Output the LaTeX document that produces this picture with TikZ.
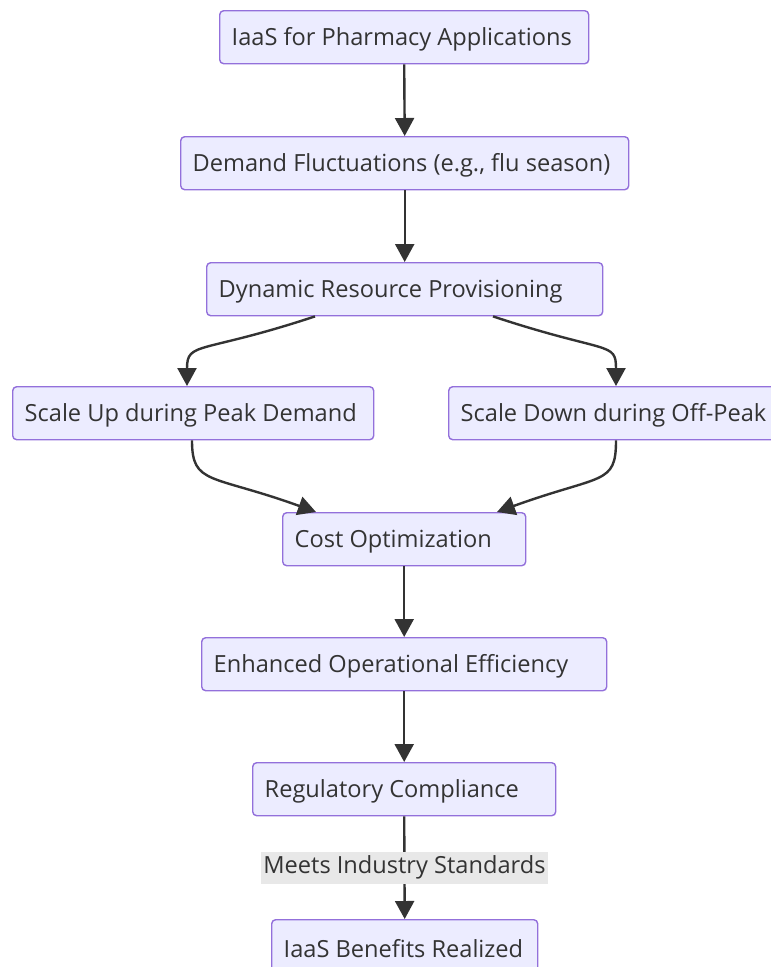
\documentclass[tikz,border=0pt]{standalone}
\usepackage{fontspec}
\setmainfont{Open Sans}
\usetikzlibrary{arrows.meta}
\definecolor{boxfill}{HTML}{ECECFF}
\definecolor{boxline}{HTML}{9370DB}
\definecolor{ink}{HTML}{333333}
\definecolor{lblbg}{HTML}{E8E8E8}
\newcommand{\boxtext}[2]{\makebox[#1][l]{\raisebox{-2pt}[\height][\depth]{#2}}}
\begin{document}
\begin{tikzpicture}[x=1pt,y=-1pt,
  box/.style={draw=boxline, fill=boxfill, line width=1.4pt, rounded corners=4pt,
    minimum height=53pt, inner xsep=12pt, inner ysep=0pt,
    font=\fontsize{23.6}{28}\selectfont, text=ink, anchor=north west},
  conn/.style={draw=ink, line width=2.4pt, -{Triangle[length=18pt,width=19pt]}},
  lbl/.style={fill=lblbg, text=ink, font=\fontsize{23.6}{28}\selectfont,
    inner xsep=2pt, inner ysep=0pt, minimum height=32pt}]
\useasboundingbox (0,0) rectangle (771,967);
\node[box] (n1) at (219,10) {\boxtext{345pt}{IaaS for Pharmacy Applications}};
\node[box] (n2) at (180,136) {\boxtext{424pt}{Demand Fluctuations (e.g., flu season)}};
\node[box] (n3) at (206,262) {\boxtext{372pt}{Dynamic Resource Provisioning}};
\node[box] (n4) at (12,386) {\boxtext{337pt}{Scale Up during Peak Demand}};
\node[box] (n5) at (448,386) {\boxtext{360pt}{Scale Down during Off-Peak}};
\node[box] (n6) at (282,512) {\boxtext{219pt}{Cost Optimization}};
\node[box] (n7) at (201,637) {\boxtext{381pt}{Enhanced Operational Efficiency}};
\node[box] (n8) at (252,762) {\boxtext{279pt}{Regulatory Compliance}};
\node[box] (n9) at (271,919) {\boxtext{242pt}{IaaS Benefits Realized}};
\coordinate (a3l) at ([xshift=109pt]n3.south west);
\coordinate (a3r) at ([xshift=287pt]n3.south west);
\coordinate (a4t) at ([xshift=175pt]n4.north west);
\coordinate (a4b) at ([xshift=180pt]n4.south west);
\coordinate (a5t) at ([xshift=168pt]n5.north west);
\coordinate (a5b) at ([xshift=168pt]n5.south west);
\coordinate (a6l) at ([xshift=34pt]n6.north west);
\coordinate (a6r) at ([xshift=215pt]n6.north west);
\draw[conn] (n1.south) -- (n2.north);
\draw[conn] (n2.south) -- (n3.north);
\draw[conn] (a3l) .. controls +(-115,38) and +(0,-45) .. (a4t);
\draw[conn] (a3r) .. controls +(115,38) and +(0,-45) .. (a5t);
\draw[conn] (a4b) .. controls +(0,45) and +(-105,-38) .. (a6l);
\draw[conn] (a5b) .. controls +(0,45) and +(105,-38) .. (a6r);
\draw[conn] (n6.south) -- (n7.north);
\draw[conn] (n7.south) -- (n8.north);
\draw[conn] (n8.south) -- node[lbl] (l89) {Meets Industry Standards} (n9.north);
\end{tikzpicture}
\end{document}
